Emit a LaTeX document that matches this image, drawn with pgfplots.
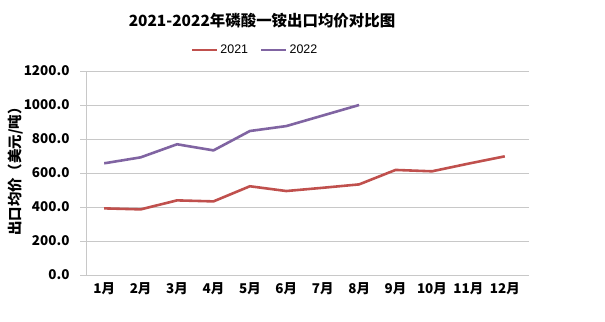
\documentclass[border=0pt]{standalone}
\usepackage{pgfplots}
\pgfplotsset{compat=1.18}
\usepackage{fontspec}
\setmainfont{Liberation Sans}
\newfontfamily\cjk{Noto Sans CJK SC}
\definecolor{c21}{HTML}{C0504D}
\definecolor{c22}{HTML}{8064A2}
\definecolor{gridc}{HTML}{C8C8C8}
\begin{document}
\begin{tikzpicture}[x=1bp,y=1bp]
\useasboundingbox[fill=white] (0,0) rectangle (605,321);
\begin{axis}[
  at={(86bp,46bp)}, anchor=south west,
  scale only axis, width=437bp, height=204bp,
  xmin=-0.5, xmax=11.5, ymin=0, ymax=1200,
  xtick={0,...,11},
  xticklabels={1月,2月,3月,4月,5月,6月,7月,8月,9月,10月,11月,12月},
  ytick={0,200,...,1200},
  yticklabels={0.0,200.0,400.0,600.0,800.0,1000.0,1200.0},
  ticklabel style={font=\cjk\bfseries\fontsize{13.5}{15}\selectfont},
  xticklabel style={yshift=-4bp},
  yticklabel style={xshift=-7bp},
  ymajorgrids, grid style={gridc, line width=0.8pt},
  axis line style={draw=none},
  major x tick style={draw=none},
  major y tick style={gridc, line width=0.8pt},
  ytick align=outside, major tick length=6bp,
  legend style={at={(axis description cs:0.387,1.103)}, anchor=center, draw=none, fill=none,
    font=\fontsize{12.5}{14}\selectfont, legend columns=2,
    /tikz/every even column/.append style={column sep=10bp}},
  legend image code/.code={\draw[#1, line width=2.5pt] (0bp,0bp) -- (25bp,0bp);},
]
\draw[gridc, line width=0.8pt] (axis cs:-0.5,0) -- (axis cs:-0.5,1200);
\addplot[c21, line width=2.6pt, no markers] coordinates {
 (0,392) (1,386) (2,439) (3,433) (4,522) (5,494) (6,513) (7,533) (8,618) (9,610) (10,655) (11,698)};
\addlegendentry{2021}
\addplot[c22, line width=2.6pt, no markers] coordinates {
 (0,657) (1,692) (2,769) (3,733) (4,847) (5,876) (6,938) (7,1000)};
\addlegendentry{2022}
\end{axis}
\node at (262,300) {\cjk\bfseries\fontsize{15.5}{18}\selectfont 2021-2022年磷酸一铵出口均价对比图};
\node[rotate=90] at (16,153) {\cjk\bfseries\fontsize{14.5}{17}\selectfont 出口均价（美元/吨）};
\end{tikzpicture}
\end{document}
